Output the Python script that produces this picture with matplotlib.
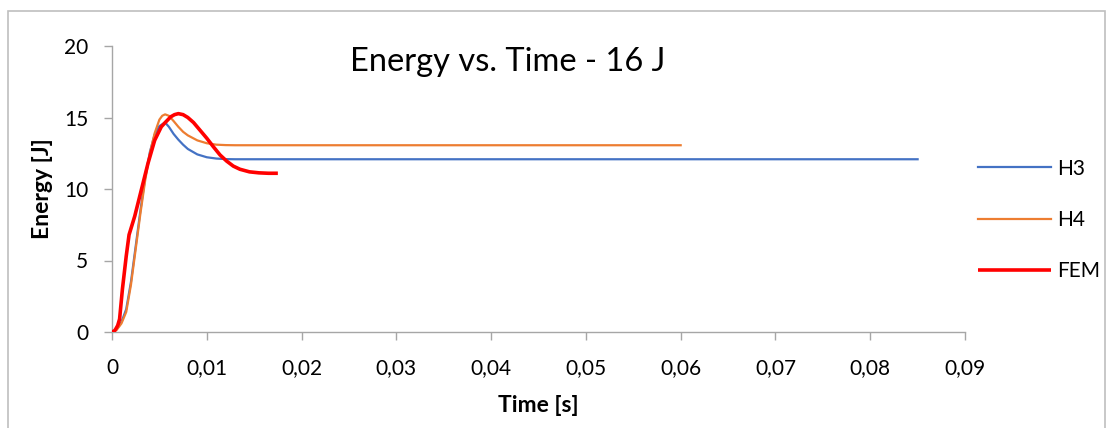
import matplotlib
matplotlib.use("Agg")
import matplotlib.pyplot as plt
from matplotlib.patches import Rectangle

# Energy histories for the 16 J impact case
h3_time = [0, 0.0005, 0.001, 0.0015, 0.002, 0.0025, 0.003, 0.0035, 0.004, 0.0045,
           0.005, 0.0056, 0.006, 0.0065, 0.007, 0.0075, 0.008, 0.009, 0.010, 0.011,
           0.012, 0.013, 0.02, 0.04, 0.06, 0.085]
h3_energy = [0, 0.2, 0.7, 1.6, 3.5, 6.0, 8.5, 10.8, 12.6, 13.8,
             14.4, 14.65, 14.35, 13.85, 13.45, 13.1, 12.8, 12.42, 12.22, 12.13,
             12.09, 12.08, 12.08, 12.08, 12.08, 12.08]

h4_time = [0, 0.0005, 0.001, 0.0015, 0.002, 0.0025, 0.003, 0.0035, 0.004, 0.0045,
           0.005, 0.0053, 0.0056, 0.006, 0.0065, 0.007, 0.0075, 0.008, 0.009, 0.010, 0.011,
           0.012, 0.013, 0.02, 0.03, 0.04, 0.05, 0.06]
h4_energy = [0, 0.15, 0.6, 1.4, 3.3, 5.8, 8.3, 10.6, 12.5, 13.9,
             14.85, 15.12, 15.22, 15.12, 14.75, 14.35, 14.0, 13.75, 13.4, 13.2, 13.1,
             13.07, 13.06, 13.06, 13.06, 13.06, 13.06, 13.06]

fem_time = [0, 0.0003, 0.0006, 0.0008, 0.0011, 0.0015, 0.0018, 0.0024, 0.0031, 0.0038,
            0.0045, 0.0052, 0.0056, 0.0062, 0.0066, 0.007, 0.0075, 0.008, 0.0086, 0.0093,
            0.010, 0.0107, 0.0114, 0.0121, 0.0128, 0.0135, 0.0145, 0.0155, 0.0165, 0.0175]
fem_energy = [0, 0.1, 0.45, 0.9, 3.0, 5.3, 6.8, 8.1, 9.95, 11.8,
              13.4, 14.35, 14.64, 15.05, 15.2, 15.27, 15.2, 15.0, 14.65, 14.1,
              13.55, 12.95, 12.38, 11.95, 11.6, 11.38, 11.2, 11.13, 11.1, 11.1]

x_ticks = [0, 0.01, 0.02, 0.03, 0.04, 0.05, 0.06, 0.07, 0.08, 0.09]
x_tick_labels = ["0", "0,01", "0,02", "0,03", "0,04", "0,05", "0,06", "0,07", "0,08", "0,09"]
y_ticks = [0, 5, 10, 15, 20]

plt.rcParams["font.family"] = ["Lato", "DejaVu Sans"]

W, H = 1107, 428
fig = plt.figure(figsize=(W / 100, H / 100), dpi=100)
ax = fig.add_axes([112 / W, 1 - 332 / H, (965 - 112) / W, (332 - 46) / H])

ax.plot(h3_time, h3_energy, color="#4472C4", lw=1.6, label="H3", zorder=2)
ax.plot(h4_time, h4_energy, color="#ED7D31", lw=1.6, label="H4", zorder=3)
ax.plot(fem_time, fem_energy, color="#FF0000", lw=2.6, label="FEM", zorder=4,
        solid_capstyle="butt")

ax.set_xlim(0, 0.09)
ax.set_ylim(0, 20)
ax.set_xticks(x_ticks)
ax.set_xticklabels(x_tick_labels)
ax.set_yticks(y_ticks)

for side in ("top", "right"):
    ax.spines[side].set_visible(False)
for side in ("left", "bottom"):
    ax.spines[side].set_color("#A6A6A6")
    ax.spines[side].set_linewidth(1.0)
ax.tick_params(axis="both", colors="#A6A6A6", labelcolor="black", length=6,
               width=1.0, labelsize=15, direction="out")
ax.tick_params(axis="x", pad=13)
ax.tick_params(axis="y", pad=11)

ax.set_xlabel("Time [s]", fontsize=16.5, fontweight="bold", labelpad=12)
ax.set_ylabel("Energy [J]", fontsize=16.5, fontweight="bold", labelpad=8)

fig.text(508 / W, 1 - 62 / H, "Energy vs. Time - 16 J", fontsize=23.5,
         ha="center", va="center")

leg = ax.legend(loc="center left", bbox_to_anchor=(970 / W, 1 - 220 / H),
                bbox_transform=fig.transFigure, frameon=False, fontsize=15,
                handlelength=3.5, handletextpad=0.3, labelspacing=1.5,
                borderaxespad=0)

fig.patches.append(Rectangle((8 / W, -0.05), (1105 - 8) / W, 1.05 - 11 / H,
                             transform=fig.transFigure, fill=False,
                             edgecolor="#BFBFBF", lw=1.2))

fig.savefig("out.png", dpi=100)
